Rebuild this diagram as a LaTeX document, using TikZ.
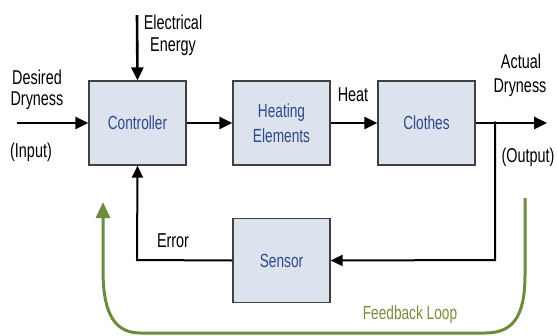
\documentclass[tikz,border=0pt]{standalone}
\usepackage{fontspec}
\setmainfont[FakeStretch=0.72]{Liberation Sans}
\usetikzlibrary{arrows.meta}
\definecolor{boxfill}{HTML}{DCE3EE}
\definecolor{boxtext}{HTML}{2E4A8A}
\definecolor{loopgreen}{HTML}{6E8B3D}
\definecolor{looptext}{HTML}{7B8B3A}
\begin{document}
\begin{tikzpicture}[x=1pt,y=-1pt,
  blk/.style={draw=black!75,line width=1.2pt,fill=boxfill,minimum width=97pt,minimum height=84pt,
    inner sep=0pt,text=boxtext,align=center,font=\fontsize{19}{25}\selectfont},
  lbl/.style={inner sep=0pt,align=center,font=\fontsize{20}{24}\selectfont},
  mainarrow/.style={line width=2.6pt,-{Triangle[length=13pt,width=12pt]}},
  fbline/.style={line width=2pt},
  fbarrow/.style={line width=2pt,-{Triangle[length=12pt,width=11pt]}},
  greenarrow/.style={draw=loopgreen,line width=3pt,-{Triangle[length=16pt,width=14pt]}}]
\useasboundingbox (0,0) rectangle (557,335);
% blocks
\node[blk] (ctrl) at (137.5,123) {Controller};
\node[blk] (heat) at (281.5,123) {Heating\\Elements};
\node[blk] (cloth) at (426.5,123) {Clothes};
\node[blk] (sens) at (281.5,260.5) {Sensor};
% coordinates
\coordinate (in) at (17,123);
\coordinate (ee) at (137,15);
\coordinate (out) at (547,123);
\coordinate (j) at (495,123);
\coordinate (jd) at (495,260);
\coordinate (ec) at (137,260);
\coordinate (gs) at (525,198);
\coordinate (ge) at (103,202);
% main arrows
\draw[mainarrow] (in) -- (ctrl.west);
\draw[mainarrow] (ee) -- (ctrl.north);
\draw[mainarrow] (ctrl.east) -- (heat.west);
\draw[mainarrow] (heat.east) -- (cloth.west);
\draw[mainarrow] (cloth.east) -- (out);
% feedback
\fill (j) circle (1.8pt);
\draw[fbarrow] (j) -- (jd) -- (sens.east);
\draw[fbarrow] (sens.west) -- (ec) -- (ctrl.south);
% green loop
\draw[greenarrow] (gs) -- (525,275) .. controls (525,318) and (512,333) .. (485,333)
  -- (140,333) .. controls (110,333) and (103,305) .. (103,270) -- (ge);
% labels
\node[lbl] (l1) at (173,22) {Electrical};
\node[lbl] (l2) at (173,47) {Energy};
\node[lbl] (l3) at (37,77) {Desired};
\node[lbl] (l4) at (37,101) {Dryness};
\node[lbl] (l5) at (31,152) {(Input)};
\node[lbl] (l6) at (353,95) {Heat};
\node[lbl] (l7) at (521,61) {Actual};
\node[lbl] (l8) at (520,88) {Dryness};
\node[lbl] (l9) at (528,157) {(Output)};
\node[lbl] (l10) at (173,241) {Error};
\node[lbl,text=looptext,font=\fontsize{19}{22}\selectfont] (l11) at (410,315) {Feedback Loop};
\end{tikzpicture}
\end{document}
